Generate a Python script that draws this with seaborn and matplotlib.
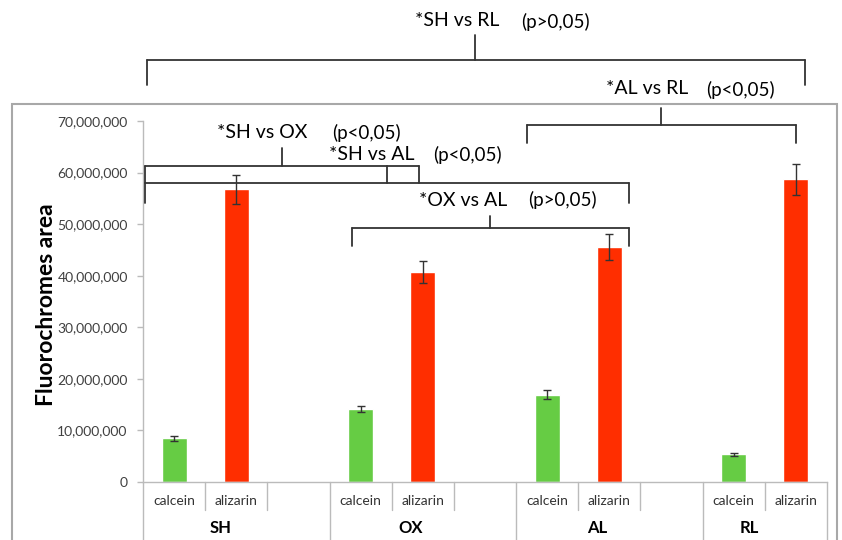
import seaborn as sns
import numpy as np
import pandas as pd
import matplotlib.pyplot as plt
import matplotlib.ticker as mticker
from matplotlib.patches import Rectangle

# Data
groups = ['SH', 'OX', 'AL', 'RL']
stains = ['calcein', 'alizarin']
calcein_mean = [8.5e6, 14.1e6, 16.9e6, 5.4e6]
calcein_err = [0.5e6, 0.6e6, 0.9e6, 0.3e6]
alizarin_mean = [56.8e6, 40.7e6, 45.5e6, 58.7e6]
alizarin_err = [2.8e6, 2.1e6, 2.5e6, 3.0e6]

W, H = 842, 540

# Build the long table, one row per bar:
rows = []
for g, cm, ce, am, ae in zip(groups, calcein_mean, calcein_err, alizarin_mean, alizarin_err):
    rows.append({'slot': g + ' calcein', 'stain': 'calcein', 'value': cm, 'err': ce})
    rows.append({'slot': g + ' alizarin', 'stain': 'alizarin', 'value': am, 'err': ae})
df = pd.DataFrame(rows)

# Slot order with an empty slot between groups (Excel style):
order = []
for i, g in enumerate(groups):
    order += [g + ' calcein', g + ' alizarin']
    if i < len(groups) - 1:
        order.append(g + ' gap')

sns.set_style('white')
plt.rcParams['font.family'] = ['Lato', 'DejaVu Sans']

fig = plt.figure(figsize=(W / 100, H / 100), dpi=100)
ax = fig.add_axes([143 / W, 1 - 482 / H, 684 / W, 361 / H])

palette = {'calcein': '#66CC44', 'alizarin': '#FF2E00'}
sns.barplot(data=df, x='slot', y='value', hue='stain', order=order, palette=palette,
            width=0.4, dodge=False, errorbar=None, legend=False, ax=ax, saturation=1)

# Error bars:
xpos = [order.index(s) for s in df['slot']]
ax.errorbar(xpos, df['value'], yerr=df['err'], fmt='none', ecolor='#333333',
            elinewidth=1, capsize=3, capthick=1)

ax.set_xlim(-0.5, len(order) - 0.5)
ax.set_ylim(0, 7e7)
ax.set_yticks(np.arange(0, 7.1e7, 1e7))
ax.yaxis.set_major_formatter(mticker.FuncFormatter(lambda v, p: '0' if v == 0 else f'{int(v):,}'))
ax.tick_params(axis='y', left=True, length=4, width=1, color='#BBBBBB', labelsize=10,
               labelcolor='#404040', pad=7)
ax.set_xticks([])
ax.set_xlabel('')
for s in ['top', 'right']:
    ax.spines[s].set_visible(False)
for s in ['left', 'bottom']:
    ax.spines[s].set_color('#BBBBBB')
    ax.spines[s].set_linewidth(1)

ax.set_ylabel('Fluorochromes area', fontsize=16.5, fontweight='bold', color='black')
ax.yaxis.set_label_coords(-0.125, 0.49)

# Multi-level category axis:
tr = ax.get_xaxis_transform()
short_len = -28 / 361
long_len = -58 / 361
long_bounds = [-0.5, 2.5, 5.5, 8.5, 10.5]
for b in np.arange(-0.5, len(order), 1.0):
    y_end = long_len if b in long_bounds else short_len
    ax.plot([b, b], [0, y_end], transform=tr, color='#BBBBBB', lw=1, clip_on=False)
for i, s in enumerate(order):
    if not s.endswith('gap'):
        ax.text(i, -19 / 361, s.split(' ')[1], transform=tr, ha='center', va='center',
                fontsize=10, color='#333333')
group_x = [0.75, 3.8, 6.8, 9.25]
for g, gx in zip(groups, group_x):
    ax.text(gx, -46 / 361, g, transform=tr, ha='center', va='center', fontsize=12,
            fontweight='bold', color='black')

# Outer chart border:
fig.patches.append(Rectangle((12 / W, -0.02), (837 - 12) / W, 1 - 104 / H + 0.02,
                             transform=fig.transFigure, fill=False, edgecolor='#A8A8A8', lw=1.5))


def px(x, y):
    return x / W, 1 - y / H


def seg(x0, y0, x1, y1):
    a, b = px(x0, y0), px(x1, y1)
    fig.add_artist(plt.Line2D([a[0], b[0]], [a[1], b[1]], transform=fig.transFigure,
                              color='#333333', lw=1.3))


def label(x, y, s, size):
    fig.text(*px(x, y), s, ha='center', va='center', fontsize=size, color='black')


# SH vs RL
seg(147, 60, 805, 60); seg(147, 60, 147, 85); seg(805, 60, 805, 85); seg(475, 60, 475, 35)
label(457, 20, '*SH vs RL', 14); label(555, 22, '(p>0,05)', 13.5)
# AL vs RL
seg(527, 125, 796, 125); seg(527, 125, 527, 143); seg(796, 125, 796, 143); seg(661, 125, 661, 108)
label(647, 88, '*AL vs RL', 14); label(740, 90, '(p<0,05)', 13.5)
# SH vs OX
seg(145, 166, 419, 166); seg(145, 166, 145, 203); seg(419, 166, 419, 183); seg(282, 166, 282, 148)
label(262, 133, '*SH vs OX', 14); label(366, 133, '(p<0,05)', 13.5)
# SH vs AL
seg(145, 183, 629, 183); seg(629, 183, 629, 203); seg(387, 183, 387, 166)
label(372, 155, '*SH vs AL', 14); label(467, 155, '(p<0,05)', 13.5)
# OX vs AL
seg(352, 228, 629, 228); seg(352, 228, 352, 246); seg(629, 228, 629, 246); seg(490, 228, 490, 216)
label(463, 200, '*OX vs AL', 14); label(562, 200, '(p>0,05)', 13.5)

fig.savefig('out.png', dpi=100)
